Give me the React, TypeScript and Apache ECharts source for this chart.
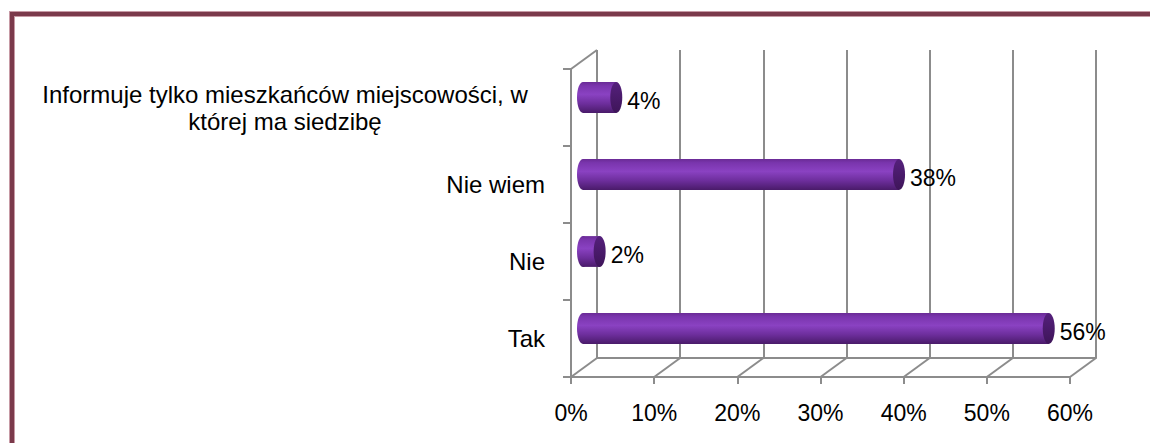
import React, { useEffect, useRef } from 'react';
import * as echarts from 'echarts';

const categories = [
  'Tak',
  'Nie',
  'Nie wiem',
  'Informuje tylko mieszkańców miejscowości, w\nktórej ma siedzibę',
];
const values = [56, 2, 38, 4];
const xTicks = [0, 10, 20, 30, 40, 50, 60];

export default function App() {
  const ref = useRef<HTMLDivElement>(null);

  useEffect(() => {
    const chart = echarts.init(ref.current!, null, { renderer: 'svg' });
    const FONT = 'Liberation Sans';
    const FS = 23;
    const FS_CAT = 24;
    const GRAY = '#8c8c8c';
    const DX = 26;
    const DY = -19;

    const lineStyle = { color: GRAY, width: 2 };

    const option: any = {
      animation: false,
      backgroundColor: '#ffffff',
      graphic: [
        {
          type: 'rect',
          shape: { x: 12, y: 14, width: 1300, height: 600 },
          style: { fill: 'none', stroke: '#c79aa5', lineWidth: 6 },
          silent: true,
        },
        {
          type: 'rect',
          shape: { x: 12, y: 14, width: 1300, height: 600 },
          style: { fill: 'none', stroke: '#7b3a4b', lineWidth: 4 },
          silent: true,
        },
      ],
      grid: [
        { left: 571, top: 69, width: 499, height: 308 },
        { left: 597, top: 50, width: 499, height: 308 },
      ],
      xAxis: [
        {
          gridIndex: 0,
          type: 'value',
          min: 0,
          max: 60,
          interval: 10,
          axisLine: { show: true, lineStyle },
          axisTick: { show: true, length: 7, lineStyle },
          splitLine: { show: false },
          axisLabel: {
            formatter: '{value}%',
            fontSize: FS,
            fontFamily: FONT,
            color: '#000',
            margin: 24,
          },
        },
        {
          gridIndex: 1,
          type: 'value',
          min: 0,
          max: 60,
          interval: 10,
          axisLine: { show: true, lineStyle },
          axisTick: { show: false },
          axisLabel: { show: false },
          splitLine: { show: true, lineStyle },
        },
      ],
      yAxis: [
        {
          gridIndex: 0,
          type: 'category',
          data: categories,
          axisLine: { show: true, lineStyle },
          axisTick: { show: true, length: 8, lineStyle },
          axisLabel: {
            fontSize: FS_CAT,
            fontFamily: FONT,
            color: '#000',
            margin: 26,
            formatter: (v: string) =>
              v.indexOf('\n') >= 0
                ? v
                    .split('\n')
                    .map((l) => `{c|${l}}`)
                    .join('\n')
                : v,
            rich: {
              c: {
                width: 520,
                align: 'center',
                fontSize: FS_CAT,
                fontFamily: FONT,
                color: '#000',
                lineHeight: 27,
              },
            },
          },
        },
        {
          gridIndex: 1,
          type: 'category',
          data: categories,
          show: false,
        },
      ],
      series: [
        {
          type: 'custom',
          xAxisIndex: 0,
          yAxisIndex: 0,
          clip: false,
          silent: true,
          data: xTicks.map((v) => [v, 0]),
          renderItem: (params: any, api: any) => {
            const cs = params.coordSys;
            const x = api.coord([api.value(0), 0])[0];
            const y = cs.y + cs.height;
            const children: any[] = [
              {
                type: 'line',
                shape: { x1: x, y1: y, x2: x + DX, y2: y + DY },
                style: { stroke: GRAY, lineWidth: 2 },
              },
            ];
            if (params.dataIndex === 0) {
              children.push({
                type: 'line',
                shape: { x1: cs.x, y1: cs.y, x2: cs.x + DX, y2: cs.y + DY },
                style: { stroke: GRAY, lineWidth: 2 },
              });
            }
            return { type: 'group', children };
          },
        },
        {
          type: 'custom',
          xAxisIndex: 0,
          yAxisIndex: 0,
          clip: false,
          silent: true,
          data: values.map((v, i) => [v, i]),
          renderItem: (params: any, api: any) => {
            const v = api.value(0);
            const i = api.value(1);
            const p0 = api.coord([0, i]);
            const p1 = api.coord([v, i]);
            const h = api.size([0, 1])[1] * 0.4;
            const cy = p0[1] - 10;
            const x0 = p0[0] + 12;
            const x1 = p1[0] + 12;
            const rx = 6;
            const body = new echarts.graphic.LinearGradient(0, 0, 0, 1, [
              { offset: 0, color: '#6a2b96' },
              { offset: 0.12, color: '#7a35ad' },
              { offset: 0.4, color: '#8a42c2' },
              { offset: 0.7, color: '#6d2e9c' },
              { offset: 1, color: '#4a1b6a' },
            ]);
            const cap = new echarts.graphic.LinearGradient(0, 0, 0, 1, [
              { offset: 0, color: '#55207c' },
              { offset: 1, color: '#3e1559' },
            ]);
            return {
              type: 'group',
              children: [
                {
                  type: 'ellipse',
                  shape: { cx: x0, cy, rx, ry: h / 2 },
                  style: { fill: body },
                },
                {
                  type: 'rect',
                  shape: { x: x0, y: cy - h / 2, width: Math.max(x1 - x0, 0), height: h },
                  style: { fill: body },
                },
                {
                  type: 'ellipse',
                  shape: { cx: x1, cy, rx, ry: h / 2 },
                  style: { fill: cap },
                },
                {
                  type: 'text',
                  x: x1 + rx + 5,
                  y: cy + 3,
                  style: {
                    text: `${v}%`,
                    fill: '#000',
                    fontSize: FS,
                    fontFamily: FONT,
                    align: 'left',
                    verticalAlign: 'middle',
                  },
                },
              ],
            };
          },
        },
      ],
    };

    chart.setOption(option);
    return () => chart.dispose();
  }, []);

  return (
    <div
      ref={ref}
      style={{ position: 'fixed', left: 0, top: 0, width: 1150, height: 443 }}
    />
  );
}
